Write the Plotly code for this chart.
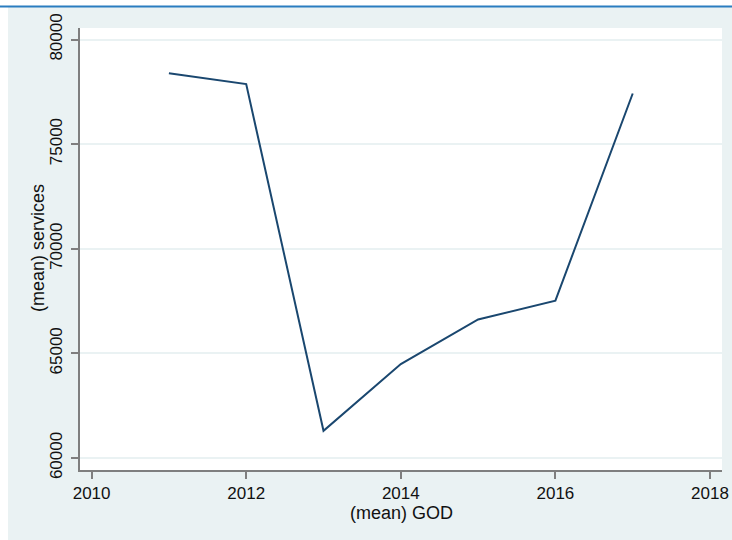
import plotly.graph_objects as go

# Yearly means
years = [2011, 2012, 2013, 2014, 2015, 2016, 2017]
services = [78390, 77870, 61300, 64490, 66620, 67520, 77420]

x_ticks = [2010, 2012, 2014, 2016, 2018]
y_ticks = [60000, 65000, 70000, 75000, 80000]

BG = "#EAF2F3"
NAVY = "#1A476F"
AXIS = "#7F7F7F"
FONT = "Liberation Sans, Arial, sans-serif"
TXT = "#111111"
TICK_FS = 17
TITLE_FS = 18

W, H = 732, 540
L, R, T, B = 80, 10, 28, 70
pw, ph = W - L - R, H - T - B


def px(x):
    return (x - L) / pw


def py(y):
    return (H - B - y) / ph


fig = go.Figure()
fig.add_trace(go.Scatter(
    x=years, y=services, mode="lines",
    line=dict(color=NAVY, width=2),
    hoverinfo="skip", showlegend=False,
))

fig.update_layout(
    width=W, height=H,
    margin=dict(l=L, r=R, t=T, b=B, autoexpand=False),
    paper_bgcolor=BG,
    plot_bgcolor="white",
    font=dict(family=FONT, size=TICK_FS, color=TXT),
    xaxis=dict(
        range=[2009.85, 2018.155],
        tickvals=x_ticks, ticktext=[str(v) for v in x_ticks],
        tickfont=dict(family=FONT, size=TICK_FS, color=TXT),
        showgrid=False, zeroline=False, automargin=False,
        showline=True, linecolor=AXIS, linewidth=2,
        ticks="outside", ticklen=7, tickwidth=1.5, tickcolor=AXIS,
        ticklabelstandoff=0,
    ),
    yaxis=dict(
        range=[59426, 80550],
        tickvals=y_ticks, ticktext=[str(v) for v in y_ticks],
        tickfont=dict(family=FONT, size=TICK_FS, color=TXT),
        tickangle=-90,
        showgrid=True, gridcolor=BG, gridwidth=1.5, zeroline=False,
        automargin=False,
        showline=True, linecolor=AXIS, linewidth=2,
        ticks="outside", ticklen=7, tickwidth=1.5, tickcolor=AXIS,
        ticklabelstandoff=2,
    ),
    shapes=[
        # white page strip on the left and top, with the blue rule
        dict(type="rect", xref="paper", yref="paper",
             x0=px(0), x1=px(8), y0=py(H), y1=py(0),
             fillcolor="white", line=dict(width=0)),
        dict(type="rect", xref="paper", yref="paper",
             x0=px(0), x1=px(W), y0=py(6), y1=py(0),
             fillcolor="white", line=dict(width=0)),
        dict(type="line", xref="paper", yref="paper",
             x0=px(0), x1=px(W), y0=py(6.5), y1=py(6.5),
             line=dict(color="#2A7DC0", width=2)),
    ],
    annotations=[
        dict(text="(mean) GOD", xref="paper", yref="paper",
             x=px(401), y=py(513), showarrow=False,
             xanchor="center", yanchor="middle",
             font=dict(family=FONT, size=TITLE_FS, color=TXT)),
        dict(text="(mean) services", xref="paper", yref="paper",
             x=px(38), y=py(248), showarrow=False, textangle=-90,
             xanchor="center", yanchor="middle",
             font=dict(family=FONT, size=TITLE_FS, color=TXT)),
    ],
)

fig.write_html("out.html")
